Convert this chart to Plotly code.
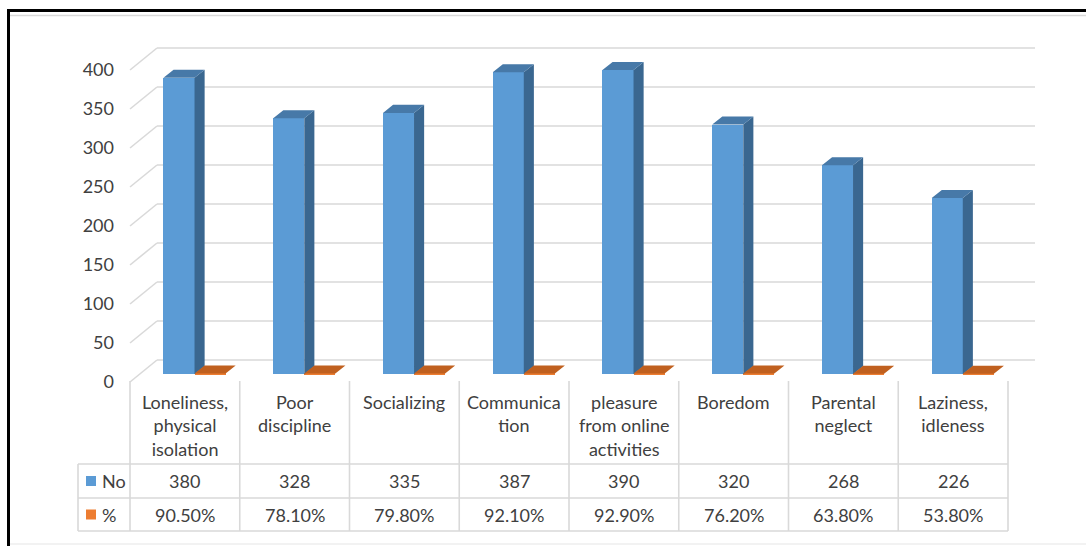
import plotly.graph_objects as go

# ---------------- data ----------------
categories = ["Loneliness,<br>physical<br>isolation", "Poor<br>discipline", "Socializing",
              "Communica<br>tion", "pleasure<br>from online<br>activities", "Boredom",
              "Parental<br>neglect", "Laziness,<br>idleness"]
no_values = [380, 328, 335, 387, 390, 320, 268, 226]
pct_values = [0.905, 0.781, 0.798, 0.921, 0.929, 0.762, 0.638, 0.538]
series_names = ["No", "%"]
y_ticks = [0, 50, 100, 150, 200, 250, 300, 350, 400]

# ---------------- geometry (pixel mapping) ----------------
W, H = 1086, 546
X0PX, XU = 130, 109.75      # px of x=0, px per category
Y0PX, YU = 382, 0.78        # px of y=0, px per unit
xr = [-X0PX / XU, (W - X0PX) / XU]
yr = [-(H - Y0PX) / YU, Y0PX / YU]
n = len(no_values)

WX, WY = 27 / XU, 22 / YU   # wall depth offset
FX, FY = 0.088, 10.0        # bar front-plane depth offset
DX, DY = 0.092, 10.3        # bar depth
BW = 0.283                  # bar width

BLUE, BLUE_SIDE, BLUE_TOP = "#5B9BD5", "#3A6790", "#4779A8"
ORANGE, ORANGE_SIDE, ORANGE_TOP = "#ED7D31", "#A04F16", "#C0601F"
GRID = "#D9D9D9"
TXT = "#404040"
FONT = "Lato"


def py(px):
    return 1 - px / H


def px2x(px):
    return (px - X0PX) / XU


fig = go.Figure()

# gridlines (side wall diagonal + back wall)
shapes = []
for t in y_ticks:
    shapes.append(dict(type="line", xref="x", yref="y", x0=0, y0=t, x1=WX, y1=t + WY,
                       line=dict(color=GRID, width=1.6), layer="below"))
    shapes.append(dict(type="line", xref="x", yref="y", x0=WX, y0=t + WY, x1=n + WX, y1=t + WY,
                       line=dict(color=GRID, width=1.6), layer="below"))


def faces(vals, xleft):
    sx, sy, tx, ty = [], [], [], []
    for xl, v in zip(xleft, vals):
        xrt = xl + BW
        top = FY + v
        sx += [xrt, xrt + DX, xrt + DX, xrt, xrt, None]
        sy += [FY, FY + DY, top + DY, top, FY, None]
        tx += [xl, xrt, xrt + DX, xl + DX, xl, None]
        ty += [top, top, top + DY, top + DY, top, None]
    return sx, sy, tx, ty


blue_left = [i + 0.5 + FX - BW for i in range(n)]
orange_left = [i + 0.5 + FX for i in range(n)]

fig.add_trace(go.Bar(x=[v + BW / 2 for v in blue_left], y=no_values, base=FY, width=BW,
                     marker=dict(color=BLUE, line=dict(width=0)), name=series_names[0],
                     showlegend=False, hoverinfo="skip"))
fig.add_trace(go.Bar(x=[v + BW / 2 for v in orange_left], y=pct_values, base=FY, width=BW,
                     marker=dict(color=ORANGE, line=dict(width=0)), name=series_names[1],
                     showlegend=False, hoverinfo="skip"))

for vals, xl, side_c, top_c in [(no_values, blue_left, BLUE_SIDE, BLUE_TOP),
                                (pct_values, orange_left, ORANGE_SIDE, ORANGE_TOP)]:
    sx, sy, tx, ty = faces(vals, xl)
    fig.add_trace(go.Scatter(x=sx, y=sy, fill="toself", fillcolor=side_c, mode="lines",
                             line=dict(width=0, color=side_c), showlegend=False, hoverinfo="skip"))
    fig.add_trace(go.Scatter(x=tx, y=ty, fill="toself", fillcolor=top_c, mode="lines",
                             line=dict(width=0, color=top_c), showlegend=False, hoverinfo="skip"))

# ---------------- data table ----------------
TOP_PX, ROW1_PX, ROW2_PX, BOT_PX = 381, 464, 498, 531
LEG_LEFT = px2x(78)
tline = dict(color=GRID, width=1.6)
for ypx in [ROW1_PX, ROW2_PX, BOT_PX]:
    shapes.append(dict(type="line", xref="x", yref="paper", x0=LEG_LEFT, x1=n,
                       y0=py(ypx), y1=py(ypx), line=tline))
shapes.append(dict(type="line", xref="x", yref="paper", x0=LEG_LEFT, x1=LEG_LEFT,
                   y0=py(ROW1_PX), y1=py(BOT_PX), line=tline))
for i in range(n + 1):
    shapes.append(dict(type="line", xref="x", yref="paper", x0=i, x1=i,
                       y0=py(TOP_PX), y1=py(BOT_PX), line=tline))

annotations = []
tfont = dict(family=FONT, size=18, color=TXT)
for i, c in enumerate(categories):
    annotations.append(dict(x=i + 0.5, y=py(389), xref="x", yref="paper", text=c,
                            showarrow=False, xanchor="center", yanchor="top", font=tfont))
    annotations.append(dict(x=i + 0.5, y=py((ROW1_PX + ROW2_PX) / 2), xref="x", yref="paper",
                            text=str(no_values[i]), showarrow=False, xanchor="center",
                            yanchor="middle", font=tfont))
    annotations.append(dict(x=i + 0.5, y=py((ROW2_PX + BOT_PX) / 2), xref="x", yref="paper",
                            text=f"{pct_values[i] * 100:.2f}%", showarrow=False, xanchor="center",
                            yanchor="middle", font=tfont))

for name, color, ypx in [(series_names[0], BLUE, (ROW1_PX + ROW2_PX) / 2),
                         (series_names[1], ORANGE, (ROW2_PX + BOT_PX) / 2)]:
    shapes.append(dict(type="rect", xref="paper", yref="paper", x0=86 / W, x1=96 / W,
                       y0=py(ypx + 5), y1=py(ypx - 5), fillcolor=color, line=dict(width=0)))
    annotations.append(dict(x=100 / W, y=py(ypx), xref="paper", yref="paper", text=name,
                            showarrow=False, xanchor="left", yanchor="middle", font=tfont))

# ---------------- frame ----------------
shapes.append(dict(type="line", xref="paper", yref="paper", x0=10 / W, x1=1, y0=py(15.5), y1=py(15.5),
                   line=dict(color=GRID, width=1.5)))
shapes.append(dict(type="line", xref="paper", yref="paper", x0=10 / W, x1=1, y0=py(544), y1=py(544),
                   line=dict(color="#EEEEEE", width=1.5)))
shapes.append(dict(type="line", xref="paper", yref="paper", x0=7 / W, x1=1, y0=py(10.5), y1=py(10.5),
                   line=dict(color="black", width=3)))
shapes.append(dict(type="line", xref="paper", yref="paper", x0=8.5 / W, x1=8.5 / W, y0=py(9), y1=0,
                   line=dict(color="black", width=3)))

fig.update_layout(
    width=W, height=H,
    margin=dict(l=0, r=0, t=0, b=0),
    paper_bgcolor="white", plot_bgcolor="white",
    barmode="overlay", bargap=0,
    showlegend=False,
    xaxis=dict(range=xr, visible=False, fixedrange=True),
    yaxis=dict(range=yr, anchor="free", position=114 / W, tickvals=y_ticks,
               ticktext=[str(t) for t in y_ticks], showgrid=False, zeroline=False,
               showline=False, ticks="", tickfont=dict(family=FONT, size=18, color=TXT),
               fixedrange=True),
    shapes=shapes,
    annotations=annotations,
)

fig.write_html("out.html")
